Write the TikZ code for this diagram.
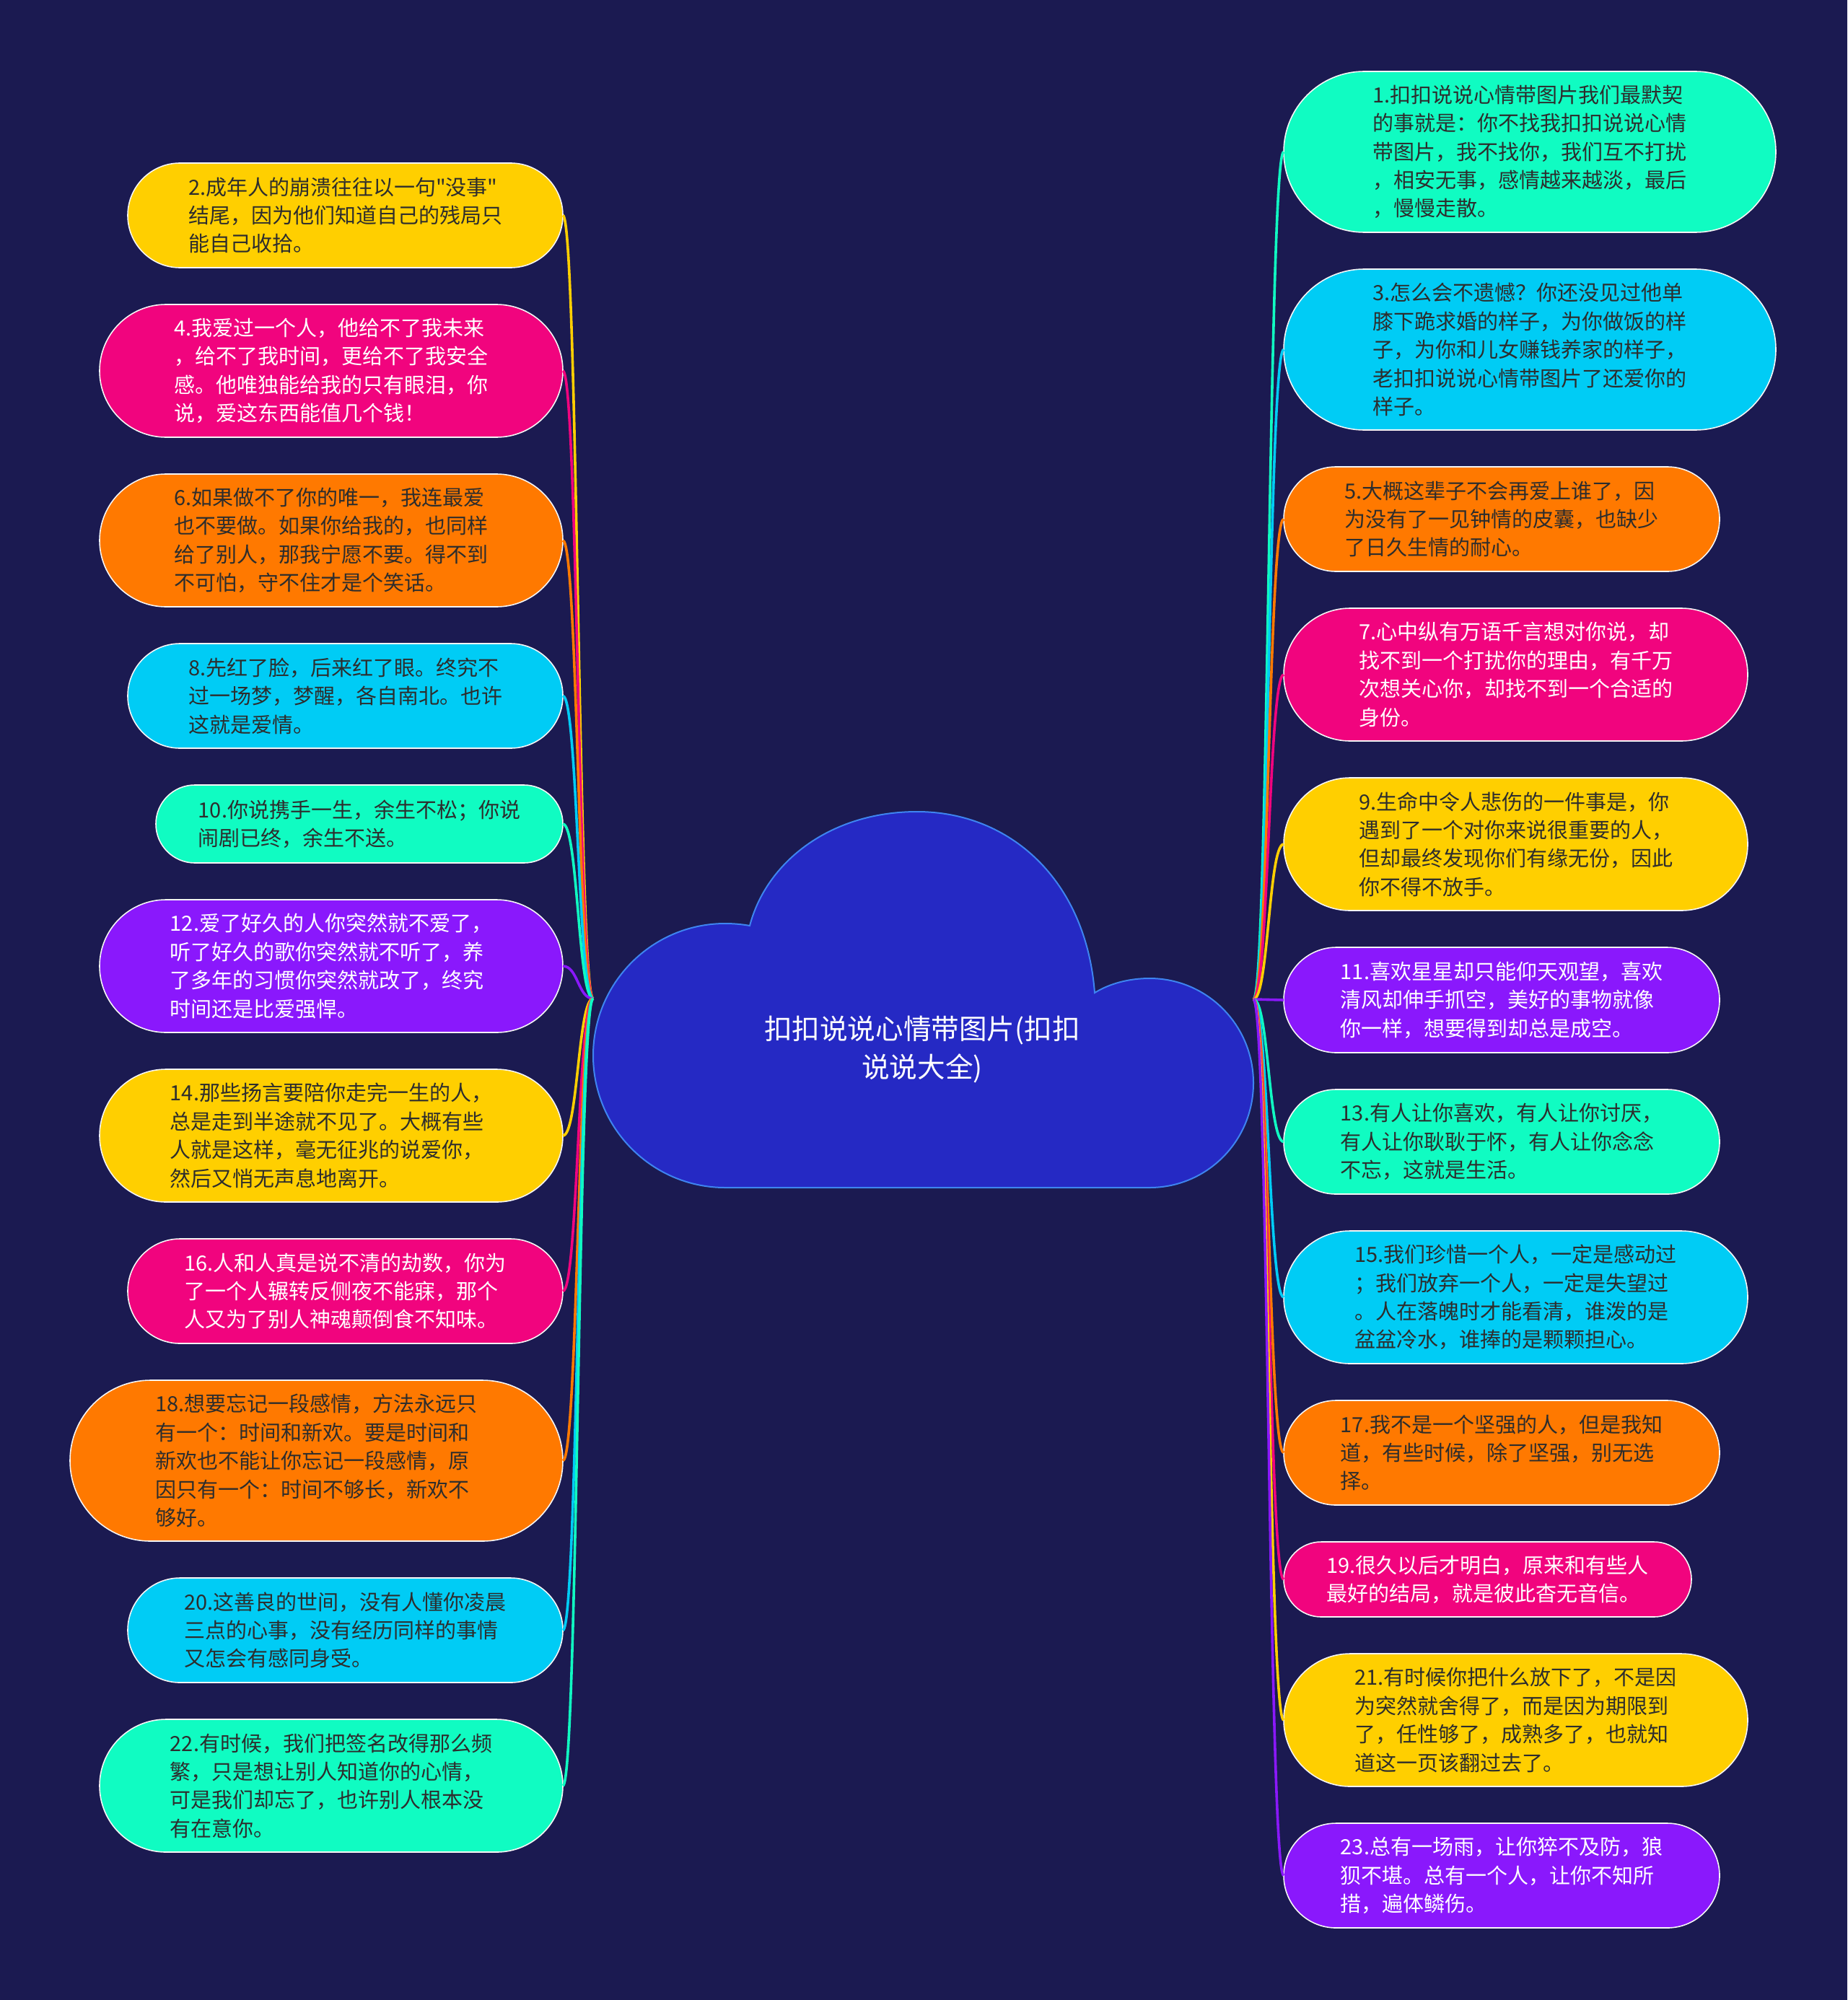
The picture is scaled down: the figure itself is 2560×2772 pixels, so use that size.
\documentclass[tikz,border=0pt]{standalone}
\usepackage{fontspec}
\setmainfont{Noto Sans CJK SC}[Ligatures=TeXOff]
\usetikzlibrary{positioning}

\begin{document}
\begin{tikzpicture}[x=0.5pt, y=-0.5pt,
    box/.style={draw=white!92!gray, line width=0.8pt, inner sep=0pt, outer sep=0pt, align=left,
        font=\fontsize{14.5}{19.7}\selectfont},
    pill/.style 2 args={minimum width=#1, minimum height=#2, rounded corners=#2/2},
    yellowbox/.style={box, fill=sunyellow, text=inkgray},
    pinkbox/.style={box, fill=rosepink, text=white},
    orangebox/.style={box, fill=fireorange, text=inkgray},
    cyanbox/.style={box, fill=skycyan, text=inkgray},
    mintbox/.style={box, fill=mintgreen, text=inkgray},
    purplebox/.style={box, fill=grapepurple, text=white},
    link/.style={line width=1.8pt}]
    % Màu sắc
    \definecolor{navybg}{RGB}{27, 26, 81}
    \definecolor{cloudblue}{RGB}{37, 41, 196}
    \definecolor{cloudedge}{RGB}{62, 132, 240}
    \definecolor{sunyellow}{RGB}{255, 207, 0}
    \definecolor{rosepink}{RGB}{241, 4, 126}
    \definecolor{fireorange}{RGB}{255, 121, 0}
    \definecolor{skycyan}{RGB}{0, 204, 245}
    \definecolor{mintgreen}{RGB}{16, 252, 194}
    \definecolor{grapepurple}{RGB}{138, 24, 252}
    \definecolor{inkgray}{RGB}{45, 45, 45}

    % 1. Nền
    \fill[navybg] (0,0) rectangle (2560,2772);

    % 2. Các ý bên trái
    \node[yellowbox, pill={301.5pt}{72.5pt}, anchor=north east] (n2) at (780,226)
        {2.成年人的崩溃往往以一句"没事"\\结尾，因为他们知道自己的残局只\\能自己收拾。};
    \node[pinkbox, pill={321pt}{92pt}, below=25.5pt of n2.south east, anchor=north east] (n4)
        {4.我爱过一个人，他给不了我未来\\，给不了我时间，更给不了我安全\\感。他唯独能给我的只有眼泪，你\\说，爱这东西能值几个钱！};
    \node[orangebox, pill={321pt}{92pt}, below=25.5pt of n4.south east, anchor=north east] (n6)
        {6.如果做不了你的唯一，我连最爱\\也不要做。如果你给我的，也同样\\给了别人，那我宁愿不要。得不到\\不可怕，守不住才是个笑话。};
    \node[cyanbox, pill={301.5pt}{72.5pt}, below=25.5pt of n6.south east, anchor=north east] (n8)
        {8.先红了脸，后来红了眼。终究不\\过一场梦，梦醒，各自南北。也许\\这就是爱情。};
    \node[mintbox, pill={282pt}{54pt}, below=25.5pt of n8.south east, anchor=north east] (n10)
        {10.你说携手一生，余生不松；你说\\闹剧已终，余生不送。};
    \node[purplebox, pill={321pt}{92pt}, below=25.5pt of n10.south east, anchor=north east] (n12)
        {12.爱了好久的人你突然就不爱了，\\听了好久的歌你突然就不听了，养\\了多年的习惯你突然就改了，终究\\时间还是比爱强悍。};
    \node[yellowbox, pill={321pt}{92pt}, below=25.5pt of n12.south east, anchor=north east] (n14)
        {14.那些扬言要陪你走完一生的人，\\总是走到半途就不见了。大概有些\\人就是这样，毫无征兆的说爱你，\\然后又悄无声息地离开。};
    \node[pinkbox, pill={301.5pt}{72.5pt}, below=25.5pt of n14.south east, anchor=north east] (n16)
        {16.人和人真是说不清的劫数，你为\\了一个人辗转反侧夜不能寐，那个\\人又为了别人神魂颠倒食不知味。};
    \node[orangebox, pill={341.5pt}{111.5pt}, below=25.5pt of n16.south east, anchor=north east] (n18)
        {18.想要忘记一段感情，方法永远只\\有一个：时间和新欢。要是时间和\\新欢也不能让你忘记一段感情，原\\因只有一个：时间不够长，新欢不\\够好。};
    \node[cyanbox, pill={301.5pt}{72.5pt}, below=25.5pt of n18.south east, anchor=north east] (n20)
        {20.这善良的世间，没有人懂你凌晨\\三点的心事，没有经历同样的事情\\又怎会有感同身受。};
    \node[mintbox, pill={321pt}{92pt}, below=25.5pt of n20.south east, anchor=north east] (n22)
        {22.有时候，我们把签名改得那么频\\繁，只是想让别人知道你的心情，\\可是我们却忘了，也许别人根本没\\有在意你。};

    % 3. Các ý bên phải
    \node[mintbox, pill={341pt}{111.5pt}, anchor=north west] (n1) at (1779,99)
        {1.扣扣说说心情带图片我们最默契\\的事就是：你不找我扣扣说说心情\\带图片，我不找你，我们互不打扰\\，相安无事，感情越来越淡，最后\\，慢慢走散。};
    \node[cyanbox, pill={341pt}{111.5pt}, below=25.5pt of n1.south west, anchor=north west] (n3)
        {3.怎么会不遗憾？你还没见过他单\\膝下跪求婚的样子，为你做饭的样\\子，为你和儿女赚钱养家的样子，\\老扣扣说说心情带图片了还爱你的\\样子。};
    \node[orangebox, pill={302pt}{72.5pt}, below=25.5pt of n3.south west, anchor=north west] (n5)
        {5.大概这辈子不会再爱上谁了，因\\为没有了一见钟情的皮囊，也缺少\\了日久生情的耐心。};
    \node[pinkbox, pill={321.5pt}{92pt}, below=25.5pt of n5.south west, anchor=north west] (n7)
        {7.心中纵有万语千言想对你说，却\\找不到一个打扰你的理由，有千万\\次想关心你，却找不到一个合适的\\身份。};
    \node[yellowbox, pill={321.5pt}{92pt}, below=25.5pt of n7.south west, anchor=north west] (n9)
        {9.生命中令人悲伤的一件事是，你\\遇到了一个对你来说很重要的人，\\但却最终发现你们有缘无份，因此\\你不得不放手。};
    \node[purplebox, pill={302pt}{73pt}, below=25.5pt of n9.south west, anchor=north west] (n11)
        {11.喜欢星星却只能仰天观望，喜欢\\清风却伸手抓空，美好的事物就像\\你一样，想要得到却总是成空。};
    \node[mintbox, pill={302pt}{72.5pt}, below=25.5pt of n11.south west, anchor=north west] (n13)
        {13.有人让你喜欢，有人让你讨厌，\\有人让你耿耿于怀，有人让你念念\\不忘，这就是生活。};
    \node[cyanbox, pill={321.5pt}{92pt}, below=25.5pt of n13.south west, anchor=north west] (n15)
        {15.我们珍惜一个人，一定是感动过\\；我们放弃一个人，一定是失望过\\。人在落魄时才能看清，谁泼的是\\盆盆冷水，谁捧的是颗颗担心。};
    \node[orangebox, pill={302pt}{72.5pt}, below=25.5pt of n15.south west, anchor=north west] (n17)
        {17.我不是一个坚强的人，但是我知\\道，有些时候，除了坚强，别无选\\择。};
    \node[pinkbox, pill={282.5pt}{52pt}, below=25.5pt of n17.south west, anchor=north west] (n19)
        {19.很久以后才明白，原来和有些人\\最好的结局，就是彼此杳无音信。};
    \node[yellowbox, pill={321.5pt}{92pt}, below=25.5pt of n19.south west, anchor=north west] (n21)
        {21.有时候你把什么放下了，不是因\\为突然就舍得了，而是因为期限到\\了，任性够了，成熟多了，也就知\\道这一页该翻过去了。};
    \node[purplebox, pill={302pt}{72.5pt}, below=25.5pt of n21.south west, anchor=north west] (n23)
        {23.总有一场雨，让你猝不及防，狼\\狈不堪。总有一个人，让你不知所\\措，遍体鳞伤。};

    % 4. Đường nối
    \coordinate (hubL) at (822,1384);
    \coordinate (hubR) at (1737,1385);
    \draw[link, sunyellow] (hubL) .. controls +(-21,0) and +(21,0) .. (n2.east);
    \draw[link, rosepink] (hubL) .. controls +(-21,0) and +(21,0) .. (n4.east);
    \draw[link, fireorange] (hubL) .. controls +(-21,0) and +(21,0) .. (n6.east);
    \draw[link, skycyan] (hubL) .. controls +(-21,0) and +(21,0) .. (n8.east);
    \draw[link, mintgreen] (hubL) .. controls +(-21,0) and +(21,0) .. (n10.east);
    \draw[link, grapepurple] (hubL) .. controls +(-21,0) and +(21,0) .. (n12.east);
    \draw[link, sunyellow] (hubL) .. controls +(-21,0) and +(21,0) .. (n14.east);
    \draw[link, rosepink] (hubL) .. controls +(-21,0) and +(21,0) .. (n16.east);
    \draw[link, fireorange] (hubL) .. controls +(-21,0) and +(21,0) .. (n18.east);
    \draw[link, skycyan] (hubL) .. controls +(-21,0) and +(21,0) .. (n20.east);
    \draw[link, mintgreen] (hubL) .. controls +(-21,0) and +(21,0) .. (n22.east);
    \draw[link, mintgreen] (hubR) .. controls +(21,0) and +(-21,0) .. (n1.west);
    \draw[link, skycyan] (hubR) .. controls +(21,0) and +(-21,0) .. (n3.west);
    \draw[link, fireorange] (hubR) .. controls +(21,0) and +(-21,0) .. (n5.west);
    \draw[link, rosepink] (hubR) .. controls +(21,0) and +(-21,0) .. (n7.west);
    \draw[link, sunyellow] (hubR) .. controls +(21,0) and +(-21,0) .. (n9.west);
    \draw[link, grapepurple] (hubR) .. controls +(21,0) and +(-21,0) .. (n11.west);
    \draw[link, mintgreen] (hubR) .. controls +(21,0) and +(-21,0) .. (n13.west);
    \draw[link, skycyan] (hubR) .. controls +(21,0) and +(-21,0) .. (n15.west);
    \draw[link, fireorange] (hubR) .. controls +(21,0) and +(-21,0) .. (n17.west);
    \draw[link, rosepink] (hubR) .. controls +(21,0) and +(-21,0) .. (n19.west);
    \draw[link, sunyellow] (hubR) .. controls +(21,0) and +(-21,0) .. (n21.west);
    \draw[link, grapepurple] (hubR) .. controls +(21,0) and +(-21,0) .. (n23.west);

    % 5. Đám mây ở giữa
    \filldraw[fill=cloudblue, draw=cloudedge, line width=1pt]
        (1005,1646) -- (1593,1646)
        .. controls (1673,1646) and (1737,1581) .. (1737,1501)
        .. controls (1737,1421) and (1673,1356) .. (1593,1356)
        .. controls (1565,1356) and (1538,1363) .. (1517,1376)
        .. controls (1505,1220) and (1400,1125) .. (1271,1125)
        .. controls (1150,1125) and (1062,1195) .. (1039,1283)
        .. controls (1028,1281) and (1016,1280) .. (1005,1280)
        .. controls (904,1280) and (822,1362) .. (822,1463)
        .. controls (822,1564) and (904,1646) .. (1005,1646) -- cycle;
    \node[text=white, align=center, font=\fontsize{19.3}{26.5}\selectfont] (title) at (1278,1455)
        {扣扣说说心情带图片(扣扣\\说说大全)};
\end{tikzpicture}
\end{document}
